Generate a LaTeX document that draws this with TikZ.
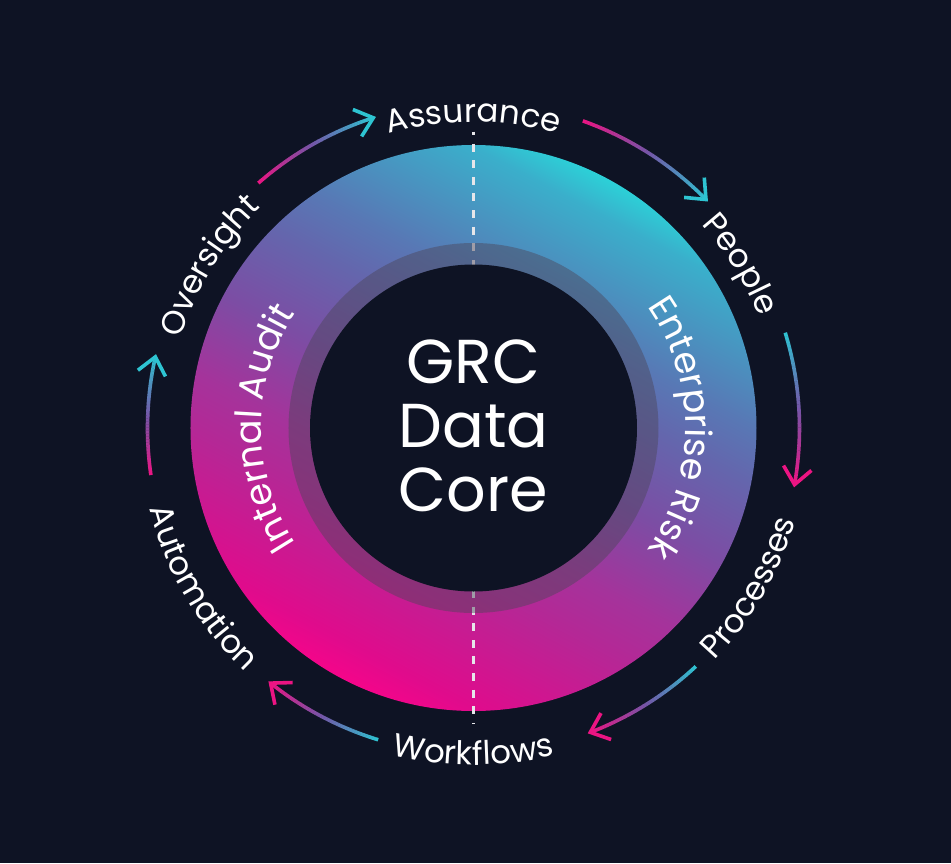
\documentclass[tikz,border=0pt]{standalone}
\usepackage{fontspec}
\setmainfont{Poppins}
\usetikzlibrary{decorations.text}
\definecolor{bg}{HTML}{0E1324}
\definecolor{amag}{HTML}{EC1483}
\definecolor{apur}{HTML}{7456A8}
\definecolor{acyan}{HTML}{2EC4D2}
\definecolor{dashc}{HTML}{E6E6EA}
\definecolor{veil}{HTML}{4B4558}
\definecolor{g0}{HTML}{F4058A}
\definecolor{g1}{HTML}{E00B8C}
\definecolor{g2}{HTML}{B42896}
\definecolor{g3}{HTML}{A5339B}
\definecolor{g4}{HTML}{7C4DA4}
\definecolor{g5}{HTML}{6466AD}
\definecolor{g6}{HTML}{5878B5}
\definecolor{g7}{HTML}{3AAFCB}
\definecolor{g8}{HTML}{2CD0D7}
\pgfdeclarehorizontalshading{ringgrad}{100bp}{color(0bp)=(g0); color(25bp)=(g0); color(28bp)=(g1); color(38.3bp)=(g2); color(42.7bp)=(g3); color(50bp)=(g4); color(57.3bp)=(g5); color(61.7bp)=(g6); color(72bp)=(g7); color(75bp)=(g8); color(100bp)=(g8)}
\newcommand\outerfont{\fontsize{32.5}{32.5}\selectfont}
\newcommand\ringfont{\fontsize{36.5}{36.5}\selectfont}
\tikzset{
  arrowline/.style={line width=3.6pt},
  coretext/.style={text=white, font=\fontsize{62}{62}\selectfont, inner sep=0pt, anchor=base},
  curvedlabel/.style={decorate, decoration={text along path, text align=center, text color=white, text={#1}}},
  dashline/.style={draw=dashc, line width=2.7pt, dash pattern=on 8pt off 8.6pt}
}
\newcommand\gradarrow[5]{%
  \foreach \k in {0,...,39}{%
    \pgfmathsetmacro\gA{#1+(#2-#1)*\k/40}%
    \pgfmathsetmacro\gB{#1+(#2-#1)*min(\k+1.08,40)/40}%
    \pgfmathsetmacro\gP{(\k+0.5)/40}%
    \ifdim\gP pt<0.5pt
      \pgfmathsetmacro\gQ{100-200*\gP}%
      \colorlet{segc}{#3!\gQ!#4}%
    \else
      \pgfmathsetmacro\gQ{200-200*\gP}%
      \colorlet{segc}{#4!\gQ!#5}%
    \fi
    \draw[arrowline, draw=segc] (\gA:326) arc[start angle=\gA, end angle=\gB, radius=326];
  }%
  \draw[arrowline, draw=#5, line join=miter] ([shift={(#2+50:22)}]#2:326) -- (#2:326) -- ([shift={(#2+130:22)}]#2:326);
}
\begin{document}
\begin{tikzpicture}[x=1pt,y=1pt]
\useasboundingbox (-473.5,-435) rectangle (477.5,428);
\fill[bg] (-473.5,-435) rectangle (477.5,428);
% ring
\shade[shading=ringgrad, shading angle=62] (0,0) circle[radius=283];
% dashed dividers
\draw[dashline, dash phase=4.7pt] (0,296.3) -- (0,160);
\draw[dashline] (0,-162) -- (0,-295);
% veil and core
\fill[veil, fill opacity=0.45] (0,0) circle[radius=185];
\fill[bg] (0,0) circle[radius=163.5];
% core text
\node[coretext] (grc) at (0,45) {GRC};
\node[coretext] (data) at (0,-19) {Data};
\node[coretext] (core) at (0,-83) {Core};
% ring labels
\path[curvedlabel={|\ringfont|Internal Audit}] (225:212) arc[start angle=225, end angle=135, radius=212];
\path[curvedlabel={|\ringfont|Enterprise Risk}] (45:212) arc[start angle=45, end angle=-45, radius=212];
% outer labels (top: clockwise, bottom: counter-clockwise)
\path[curvedlabel={|\outerfont|Assurance}] (120:306) arc[start angle=120, end angle=60, radius=306];
\path[curvedlabel={|\outerfont|People}] (61.5:306) arc[start angle=61.5, end angle=1.5, radius=306];
\path[curvedlabel={|\outerfont|Oversight}] (178.5:306) arc[start angle=178.5, end angle=118.5, radius=306];
\path[curvedlabel={|\outerfont|Processes}] (-60:335) arc[start angle=-60, end angle=0, radius=335];
\path[curvedlabel={|\outerfont|Workflows}] (-120:337) arc[start angle=-120, end angle=-60, radius=337];
\path[curvedlabel={|\outerfont|Automation}] (180.5:334) arc[start angle=180.5, end angle=240.5, radius=334];
% cycle arrows
\gradarrow{131.3}{107.9}{amag}{apur}{acyan}
\gradarrow{70.4}{44.5}{amag}{apur}{acyan}
\gradarrow{17}{-10}{acyan}{apur}{amag}
\gradarrow{-47}{-69}{acyan}{apur}{amag}
\gradarrow{-107}{-128.5}{acyan}{apur}{amag}
\gradarrow{188.3}{167.4}{amag}{apur}{acyan}
\end{tikzpicture}
\end{document}
